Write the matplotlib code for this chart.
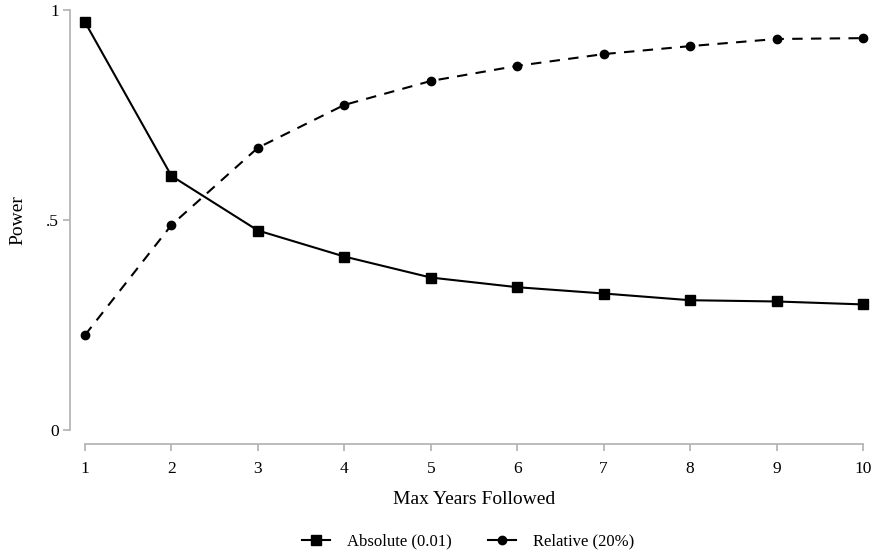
import matplotlib
matplotlib.use("Agg")
import matplotlib.pyplot as plt
from matplotlib.lines import Line2D

years = [1, 2, 3, 4, 5, 6, 7, 8, 9, 10]
absolute = [0.971, 0.605, 0.475, 0.413, 0.363, 0.340, 0.325, 0.309, 0.306, 0.299]
relative = [0.226, 0.488, 0.672, 0.774, 0.831, 0.867, 0.895, 0.914, 0.931, 0.933]
ytick_vals = [0, 0.5, 1]
ytick_labels = ["0", ".5", "1"]
series_labels = ['Absolute (0.01)', 'Relative (20%)']

plt.rcParams['font.family'] = ['Liberation Serif', 'DejaVu Serif']

fig = plt.figure(figsize=(8.73, 5.56), dpi=100)
W, H = 873, 556
ax = fig.add_axes([85 / W, 1 - 430 / H, (863 - 85) / W, (430 - 10) / H])

ax.plot(years, absolute, color='black', lw=1.5, marker='s', ms=7, clip_on=False)
ax.plot(years, relative, color='black', lw=1.5, ls=(0, (5, 4)), marker='o', ms=6,
        clip_on=False)

ax.set_xlim(1, 10)
ax.set_ylim(0, 1)
ax.set_xticks(years)
ax.set_yticks(ytick_vals)
ax.set_yticklabels(ytick_labels)

for s in ['top', 'right']:
    ax.spines[s].set_visible(False)
gray = '#b0b0b0'
ax.spines['left'].set_position(('outward', 15 * 0.72))
ax.spines['bottom'].set_position(('outward', 14 * 0.72))
ax.spines['left'].set_color(gray)
ax.spines['bottom'].set_color(gray)
ax.spines['left'].set_linewidth(1.2)
ax.spines['bottom'].set_linewidth(1.2)
ax.tick_params(axis='both', color=gray, length=5, width=1.2, labelsize=12.5)
ax.tick_params(axis='y', pad=3)
ax.tick_params(axis='x', pad=7)

ax.set_xlabel('Max Years Followed', fontsize=14, labelpad=10)
ax.set_ylabel('Power', fontsize=14, labelpad=14)

handles = [Line2D([], [], color='black', lw=1.5, marker='s', ms=7),
           Line2D([], [], color='black', lw=1.5, marker='o', ms=6)]
fig.legend(handles, series_labels, loc='lower center', bbox_to_anchor=(468 / W, -0.015),
           ncol=2, frameon=False, fontsize=12, handlelength=1.7, columnspacing=2.2,
           handletextpad=1.0)

fig.savefig('out.png', dpi=100)
